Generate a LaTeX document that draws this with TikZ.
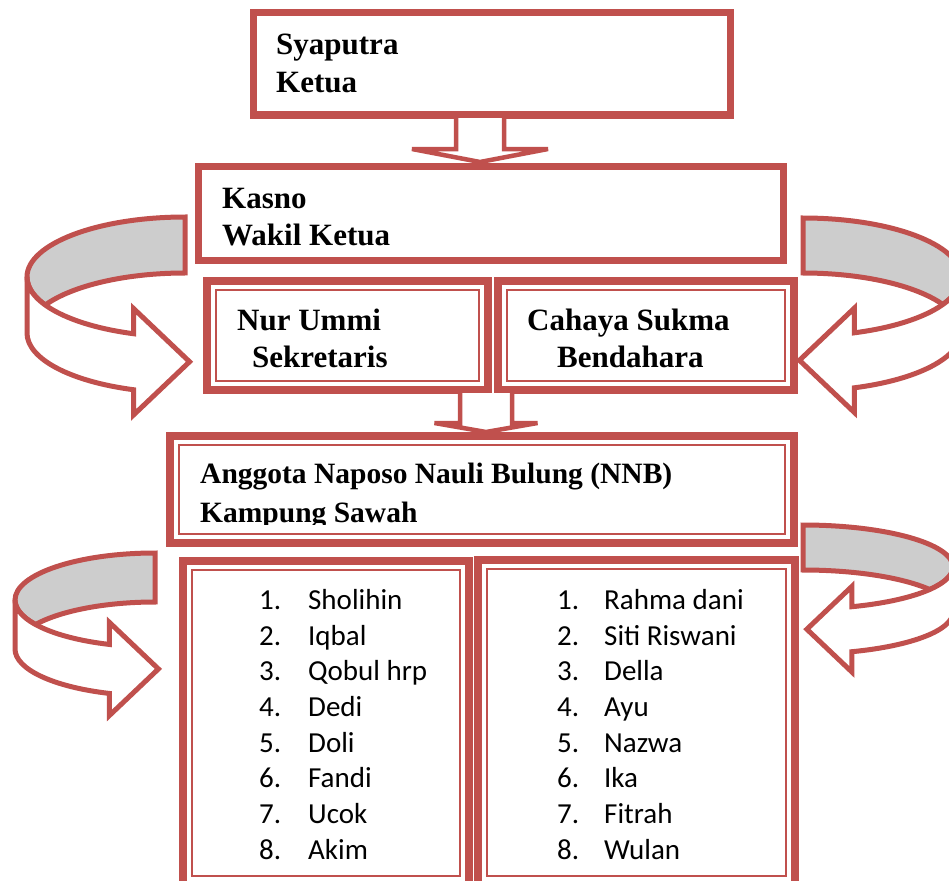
\documentclass[tikz,border=0pt]{standalone}
\usepackage{fontspec}
\setmainfont{Liberation Serif}
\newfontfamily\listfont{Carlito}
\usetikzlibrary{calc}
\definecolor{nnbred}{RGB}{192,80,77}
\definecolor{bandgray}{RGB}{205,205,205}
\def\innerframe(#1){\draw[thinframe] ($(#1.north west)+(9,-9)$) rectangle ($(#1.south east)+(-9,9)$);}
\def\blockarrow(#1)(#2)(#3:#4:#5){\draw[blockarr] ($(#1)+(-#3,-3)$) -- ($(#2)+(-#3,#5+4)$) -- ($(#2)+(-#4,#5+4)$) -- ($(#2)+(0,4)$) -- ($(#2)+(#4,#5+4)$) -- ($(#2)+(#3,#5+4)$) -- ($(#1)+(#3,-3)$);}
\def\bandarrow[#1](#2,#3)(#4:#5:#6){%
	\begin{scope}[shift={(#2,#3)},#1]
		\pgfmathsetmacro\bandalpha{asin(#6/(2*#5))}
		\pgfmathsetmacro\bandxb{#4*cos(251)}
		\pgfmathsetmacro\bandyb{#5*sin(251)}
		\draw[bandback] (0,#5) arc[start angle=90, end angle=180+\bandalpha, x radius=#4, y radius=#5] arc[start angle=180-\bandalpha, end angle=90, x radius=#4, y radius=#5] -- cycle;
		\draw[bandfront] (-#4,0) arc[start angle=180, end angle=251, x radius=#4, y radius=#5] -- (\bandxb,\bandyb+0.45*#6) -- (\bandxb+#6,\bandyb-0.5*#6) -- (\bandxb,\bandyb-1.45*#6) -- (\bandxb,\bandyb-#6) arc[start angle=251, end angle=180, x radius=#4, y radius=#5] -- cycle;
	\end{scope}}

\begin{document}
\begin{tikzpicture}[x=1pt, y=1pt,
		box/.style={draw=nnbred, line width=7, outer sep=0, inner sep=0},
		dbox/.style={box, line width=8},
		thinframe/.style={draw=nnbred, line width=2.5},
		blockarr/.style={draw=nnbred, fill=white, line width=4.5, line join=miter},
		bandback/.style={draw=nnbred, fill=bandgray, line width=5},
		bandfront/.style={draw=nnbred, fill=white, line width=5},
		role/.style={font=\bfseries\fontsize{31}{37}\selectfont, anchor=base west, inner sep=0},
		judul/.style={font=\bfseries\fontsize{29.5}{35}\selectfont, anchor=base west, inner sep=0},
		member/.style={font=\listfont\fontsize{29}{35}\selectfont, anchor=base west, inner sep=0}]
			%%%%% START %%%%%
			
			\useasboundingbox (0,0) rectangle (949,-880);
			\clip (0,0) rectangle (949,-880);
			
			\node[box, minimum width=477, minimum height=102] (ketua) at (491.5,-64) {};
			\node[box, minimum width=585, minimum height=94] (wakil) at (490.5,-213) {};
			
			\node[dbox, minimum width=281, minimum height=109] (sekretaris) at (347.5,-335.5) {};
			\node[dbox, minimum width=296, minimum height=109] (bendahara) at (646,-335.5) {};
			\innerframe(sekretaris)
			\innerframe(bendahara)
			
			\node[dbox, minimum width=624, minimum height=107] (anggota) at (482,-489.5) {};
			\innerframe(anggota)
			
			\node[dbox, minimum width=286, minimum height=324] (kiri) at (326,-723) {};
			\node[dbox, minimum width=317, minimum height=325] (kanan) at (636.5,-722.5) {};
			\innerframe(kiri)
			\innerframe(kanan)
			
			\coordinate (panah1) at (480,0);
			\coordinate (panah2) at (486,0);
			\blockarrow(ketua.south -| panah1)(wakil.north -| panah1)(24:68:13)
			\blockarrow(sekretaris.south -| panah2)(anggota.north -| panah2)(26:51.5:9)
			
			\bandarrow[](185,-277)(158:60:56)
			\bandarrow[xscale=-1](803,-277)(158:59:55)
			\bandarrow[](155,-600)(140:47:49)
			\bandarrow[xscale=-1](803,-567)(150:42:45)
			
			\node[role] (ketuanama) at (276,-55) {Syaputra};
			\node[role] (ketuajabatan) at (276,-93) {Ketua};
			\node[role] (wakilnama) at (222,-208) {Kasno};
			\node[role] (wakiljabatan) at (222,-245) {Wakil Ketua};
			\node[role] (sekrnama) at (237,-330) {Nur Ummi};
			\node[role] (sekrjabatan) at (252,-367) {Sekretaris};
			\node[role] (bendnama) at (527,-330) {Cahaya Sukma};
			\node[role] (bendjabatan) at (557,-367) {Bendahara};
			
			\node[judul] (anggotajudul) at (200,-483) {Anggota Naposo Nauli Bulung (NNB)};
			\begin{scope}
				\clip (170,-440) rectangle (794,-524);
				\node[judul] (anggotadesa) at (200,-522) {Kampung Sawah};
			\end{scope}
			
			\node[member] (kiri1) at (259,-609) {\makebox[49pt][l]{1.}Sholihin};
			\node[member] (kiri2) at (259,-645) {\makebox[49pt][l]{2.}Iqbal};
			\node[member] (kiri3) at (259,-680.5) {\makebox[49pt][l]{3.}Qobul hrp};
			\node[member] (kiri4) at (259,-716) {\makebox[49pt][l]{4.}Dedi};
			\node[member] (kiri5) at (259,-752) {\makebox[49pt][l]{5.}Doli};
			\node[member] (kiri6) at (259,-787.5) {\makebox[49pt][l]{6.}Fandi};
			\node[member] (kiri7) at (259,-823) {\makebox[49pt][l]{7.}Ucok};
			\node[member] (kiri8) at (259,-859) {\makebox[49pt][l]{8.}Akim};
			
			\node[member] (kanan1) at (557,-609) {\makebox[47pt][l]{1.}Rahma dani};
			\node[member] (kanan2) at (557,-645) {\makebox[47pt][l]{2.}Siti Riswani};
			\node[member] (kanan3) at (557,-680.5) {\makebox[47pt][l]{3.}Della};
			\node[member] (kanan4) at (557,-716) {\makebox[47pt][l]{4.}Ayu};
			\node[member] (kanan5) at (557,-752) {\makebox[47pt][l]{5.}Nazwa};
			\node[member] (kanan6) at (557,-787.5) {\makebox[47pt][l]{6.}Ika};
			\node[member] (kanan7) at (557,-823) {\makebox[47pt][l]{7.}Fitrah};
			\node[member] (kanan8) at (557,-859) {\makebox[47pt][l]{8.}Wulan};
			
			%%%%% END %%%%%
\end{tikzpicture}
\end{document}
